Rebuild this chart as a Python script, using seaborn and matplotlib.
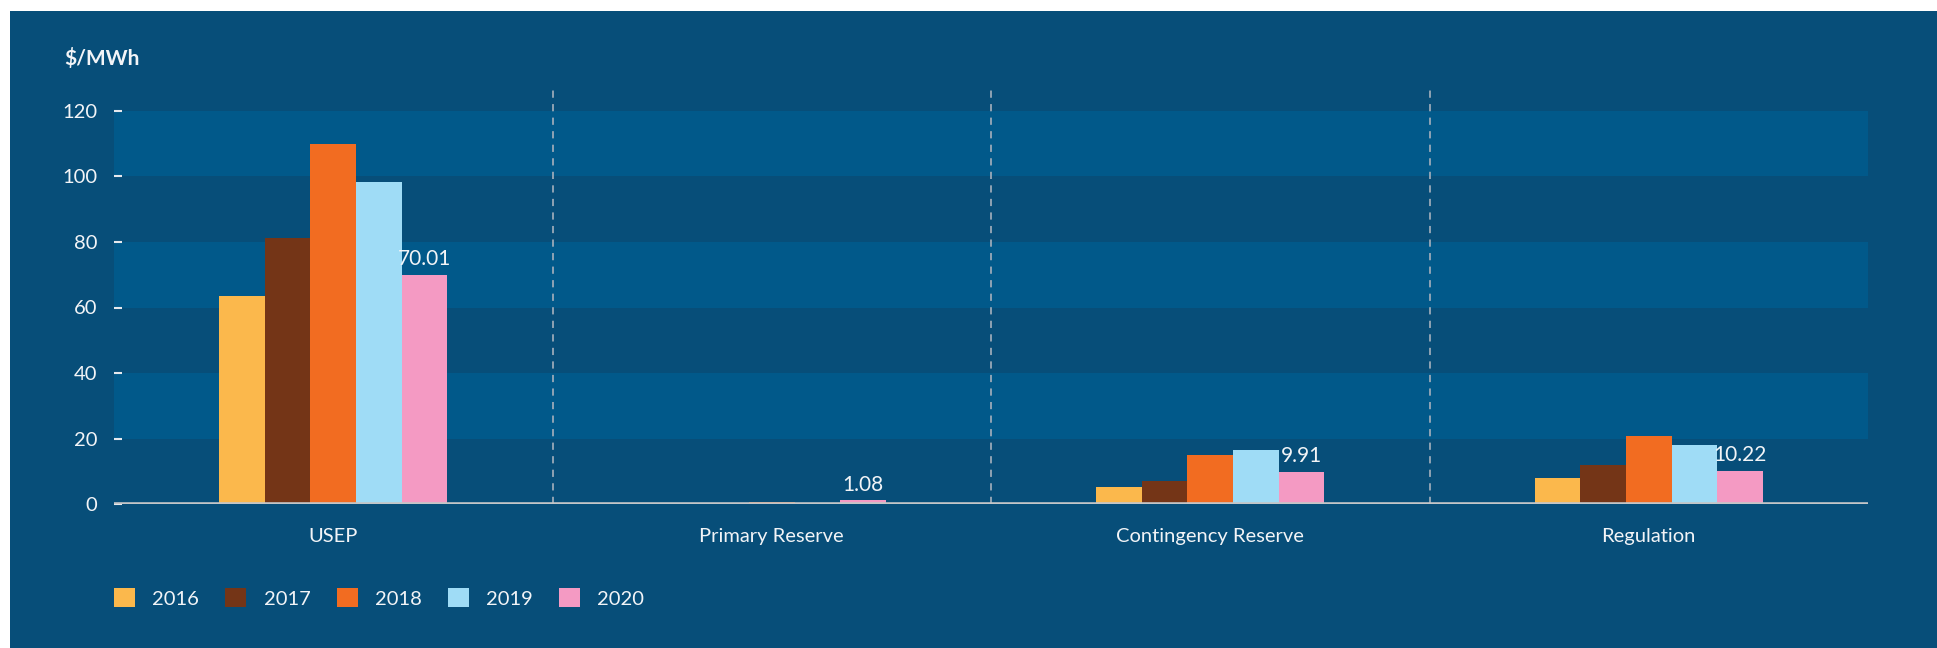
import matplotlib
matplotlib.use("Agg")
import matplotlib.pyplot as plt
from matplotlib.patches import Rectangle, Patch
from matplotlib.transforms import ScaledTranslation
import seaborn as sns
import pandas as pd

# Average prices by market component, $/MWh
categories = ["USEP", "Primary Reserve", "Contingency Reserve", "Regulation"]
years = ["2016", "2017", "2018", "2019", "2020"]
prices_2016 = [63.6, 0.4, 5.2, 8.0]
prices_2017 = [81.1, 0.25, 6.9, 11.8]
prices_2018 = [110.0, 0.6, 14.9, 20.8]
prices_2019 = [98.2, 0.45, 16.4, 18.0]
prices_2020 = [70.01, 1.08, 9.91, 10.22]
y_ticks = [0, 20, 40, 60, 80, 100, 120]

year_colors = ["#FBB84C", "#743517", "#F26C21", "#9FDCF6", "#F49AC3"]
navy = "#074E79"
band = "#01598A"
text_col = "#F2F4F7"

series = [prices_2016, prices_2017, prices_2018, prices_2019, prices_2020]
df = pd.DataFrame(
    [(c, y, v) for y, vals in zip(years, series) for c, v in zip(categories, vals)],
    columns=["category", "year", "price"],
)

plt.rcParams["font.family"] = ["Lato", "DejaVu Sans"]

W, H = 1937, 648
fig = plt.figure(figsize=(W / 100, H / 100), dpi=100, facecolor="white")
fig.patches.append(Rectangle((10 / W, 0), 1, (H - 11) / H, transform=fig.transFigure,
                             facecolor=navy, edgecolor="none", zorder=-10))

ax_left, ax_right = 114 / W, 1868 / W
ax_bottom = (H - 504) / H
ymax = 128
ax_top = (H - (504 - ymax * 3.275)) / H
ax = fig.add_axes([ax_left, ax_bottom, ax_right - ax_left, ax_top - ax_bottom])
ax.set_facecolor(navy)

# alternating horizontal bands
for lo in range(20, 120, 40):
    ax.axhspan(lo, lo + 20, color=band, lw=0, zorder=0)

sns.barplot(data=df, x="category", y="price", hue="year", palette=year_colors,
            width=0.52, saturation=1, ax=ax, legend=False, zorder=3,
            linewidth=0, errorbar=None)

ax.set_xlim(-0.5, len(categories) - 0.5)
ax.set_ylim(0, ymax)

# dashed separators between groups
for xs in [0.5, 1.5, 2.5]:
    ax.axvline(xs, ymin=0, ymax=1, color="#9AA9B8", lw=1.3, ls=(0, (4, 3.5)), zorder=2)

ax.axhline(0, color="#C4C6C8", lw=2.6, zorder=4)

# value labels on 2020 bars, nudged slightly right
labels = ax.bar_label(ax.containers[-1], labels=[f"{v:.2f}" for v in prices_2020],
                      padding=4, color=text_col, fontsize=15)
nudge = ScaledTranslation(5 / 100, 0, fig.dpi_scale_trans)
for t in labels:
    t.set_transform(t.get_transform() + nudge)

for s in ax.spines.values():
    s.set_visible(False)

ax.set_yticks(y_ticks)
ax.set_yticklabels([str(t) for t in y_ticks])
ax.tick_params(axis="y", direction="in", length=6, width=1.5, color="#E6E9EE",
               labelcolor=text_col, labelsize=14.5, pad=12)
ax.tick_params(axis="x", length=0, labelcolor=text_col, labelsize=14.5, pad=17)
ax.set_xlabel("")
ax.set_ylabel("")

fig.text(64 / W, (H - 59) / H, "$/MWh", color=text_col, fontsize=15,
         fontweight="bold", va="center", ha="left")

handles = [Patch(facecolor=c, edgecolor="none") for c in year_colors]
fig.legend(handles, years, loc="center left", bbox_to_anchor=(ax_left, (H - 598) / H),
           ncol=5, frameon=False, fontsize=14.5, labelcolor=text_col,
           handlelength=1.05, handleheight=1.05, handletextpad=0.85,
           columnspacing=1.3, borderpad=0, borderaxespad=0)

fig.savefig("out.png", dpi=100, facecolor="white")
